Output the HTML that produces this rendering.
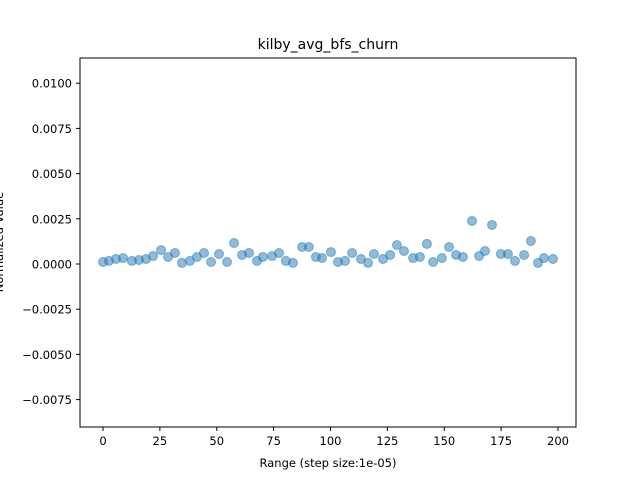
<!DOCTYPE html>
<html><head><meta charset="utf-8"><style>body{margin:0;background:#fff}svg text{font-family:"DejaVu Sans","Liberation Sans",sans-serif;fill:#000}</style></head>
<body>
<svg id="chart" width="640" height="480">
<rect width="640" height="480" fill="#fff"/>
<text x="328" y="49" font-size="14" text-anchor="middle">kilby_avg_bfs_churn</text>
<text x="328" y="467" font-size="11.5" text-anchor="middle">Range (step size:1e-05)</text>
<text transform="translate(3,242) rotate(-90)" font-size="11.5" text-anchor="middle">Normalized Value</text>
<g id="ticks"></g><g id="pts"></g>
<rect x="80" y="58" width="496" height="369" fill="none" stroke="#000" stroke-width="1"/>
</svg>
<script>
const xs=[0,2.6,5.7,8.8,12.7,15.8,18.9,22.0,25.5,28.6,31.6,34.7,38.2,41.3,44.4,47.5,51.0,54.5,57.6,61.1,64.2,67.7,70.3,74.3,77.4,80.4,83.5,87.5,90.5,93.6,96.3,100.2,103.3,106.4,109.5,113.4,116.5,119.1,123.1,126.2,129.2,132.3,136.3,139.3,142.4,145.1,149.0,152.1,155.2,158.2,162.2,165.3,167.9,171.0,174.9,178.0,181.1,185.1,188.1,191.2,193.8,197.8];
const vals=[1.1,1.7,2.8,3.3,1.7,2.2,2.8,4.4,7.7,3.9,6.1,0.6,1.7,3.9,6.1,1.1,5.5,1.1,11.6,5.0,6.1,1.7,3.9,4.4,6.1,1.7,0.6,9.4,9.4,3.9,3.3,6.6,1.1,1.7,6.1,2.8,0.6,5.5,2.8,5.0,10.5,7.2,3.3,3.9,11.1,1.1,3.3,9.4,5.0,3.9,23.8,4.4,7.2,21.6,5.5,5.5,1.7,5.0,12.7,0.6,3.3,2.8];
const xTicks=[0,25,50,75,100,125,150,175,200];
const yTicks=[-0.0075,-0.005,-0.0025,0,0.0025,0.005,0.0075,0.01];
const X=v=>103+v*2.275, Y=v=>264-v*18080;
const NS="http://www.w3.org/2000/svg";
const tg=document.getElementById('ticks'), pg=document.getElementById('pts');
function mk(tag,a,p){const e=document.createElementNS(NS,tag);for(const k in a)e.setAttribute(k,a[k]);p.appendChild(e);return e;}
xTicks.forEach(t=>{
 const l=mk('line',{x1:X(t),x2:X(t),y1:427,y2:431,stroke:'#000'},tg);
 
 
 const s=mk('text',{x:X(t),y:445,'font-size':11.5,'text-anchor':'middle'},tg);s.textContent=t;
 
 
});
yTicks.forEach(t=>{
 const l=mk('line',{x1:76,x2:80,y1:Y(t),y2:Y(t),stroke:'#000'},tg);
 
 
 const s=mk('text',{x:72,y:Y(t)+4.5,'font-size':11.5,'text-anchor':'end'},tg);s.textContent=t.toFixed(4).replace('-','\u2212');
 
 
});
xs.forEach((x,i)=>{
 const c=mk('circle',{cx:X(x),cy:Y(vals[i]*1e-4),r:4.5,fill:'#1f77b4','fill-opacity':0.5,stroke:'#1f77b4','stroke-opacity':0.5},pg);
 
 
});
</script>
</body></html>
